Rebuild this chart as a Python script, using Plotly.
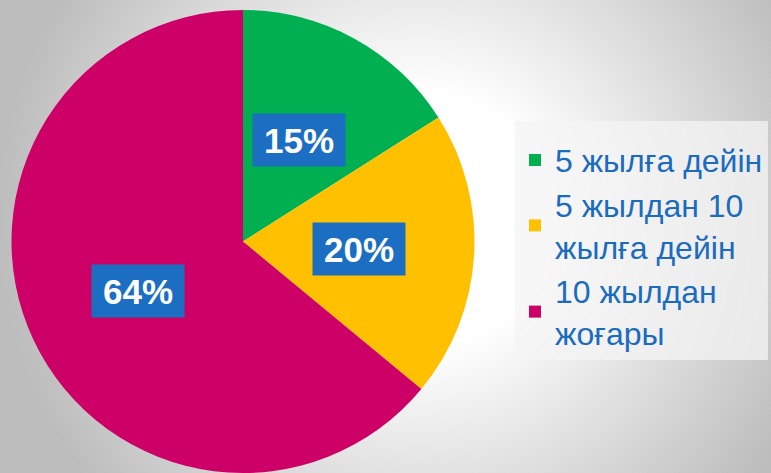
import base64
import math
import plotly.graph_objects as go

# ---- data ----
categories = ["5 жылға дейін", "5 жылдан 10<br>жылға дейін", "10 жылдан<br>жоғары"]
values = [16.0, 20.0, 64.0]
value_labels = ["15%", "20%", "64%"]
colors = ["#00b050", "#ffc000", "#cc0066"]

W, H = 771, 473
R_PX = 231.5
CX_PX, CY_PX = 243, 241.5

# background radial gradient (svg data uri)
svg = f"""<svg xmlns='http://www.w3.org/2000/svg' width='{W}' height='{H}'>
<defs><radialGradient id='g' gradientUnits='userSpaceOnUse' cx='420' cy='220' r='420'>
<stop offset='0.3' stop-color='#ffffff'/><stop offset='1' stop-color='#bdbdbd'/></radialGradient></defs>
<rect width='{W}' height='{H}' fill='url(#g)'/></svg>"""
bg_src = "data:image/svg+xml;base64," + base64.b64encode(svg.encode()).decode()

fig = go.Figure(go.Pie(
    labels=categories,
    values=values,
    marker=dict(colors=colors, line=dict(width=0)),
    sort=False,
    direction="clockwise",
    rotation=0,
    textinfo="none",
    hoverinfo="label+percent",
    domain=dict(x=[0, (2 * CX_PX) / W], y=[0, (2 * R_PX) / H]),
))

# percentage labels in blue boxes, placed at half radius on each slice's mid-angle
total = sum(values)
cum = 0
for v, t in zip(values, value_labels):
    mid = (cum + v / 2) / total * 2 * math.pi
    cum += v
    px = CX_PX + 0.5 * R_PX * math.sin(mid)
    py = CY_PX - 0.5 * R_PX * math.cos(mid)
    fig.add_annotation(
        x=px / W, y=1 - py / H, xref="paper", yref="paper",
        xanchor="center", yanchor="middle",
        text=f"<b>{t}</b>", showarrow=False,
        font=dict(family="Liberation Sans, Arial", size=35, color="white"),
        bgcolor="#1b6ec2", borderpad=7, width=78, height=38,
    )

fig.update_layout(
    width=W, height=H,
    margin=dict(l=0, r=0, t=0, b=0),
    paper_bgcolor="#e6e6e6",
    plot_bgcolor="rgba(0,0,0,0)",
    images=[dict(source=bg_src, xref="paper", yref="paper", x=0, y=1,
                 sizex=1, sizey=1, xanchor="left", yanchor="top",
                 sizing="stretch", layer="below")],
    showlegend=True,
    legend=dict(
        x=515 / W, y=1 - 121 / H, xanchor="left", yanchor="top",
        bgcolor="rgba(244,244,244,0.75)",
        font=dict(family="Liberation Sans, Arial", size=32, color="#1b6bbf"),
        title=dict(text=" ", font=dict(size=9)),
        itemclick=False, itemdoubleclick=False,
    ),
)

fig.write_html("out.html", post_script="document.body.style.margin='0';",
               config={"displayModeBar": False})
